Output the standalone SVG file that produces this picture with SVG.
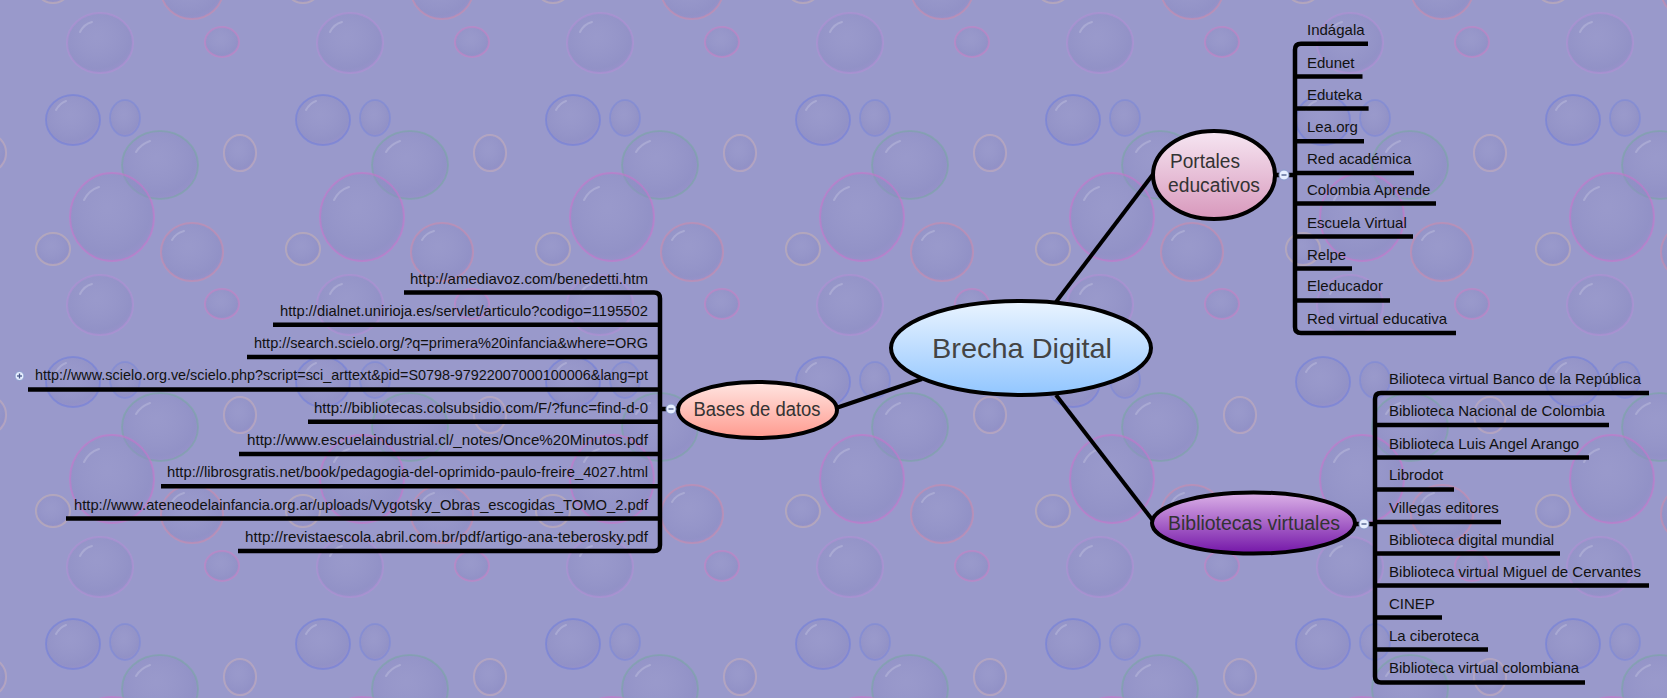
<svg xmlns="http://www.w3.org/2000/svg" width="1667" height="698" viewBox="0 0 1667 698">
<defs>
<style>
.bub{fill:url(#bf);stroke-width:2;stroke-opacity:0.5}
.hl{fill:none;stroke:#ffffff;stroke-opacity:0.18;stroke-width:2;stroke-linecap:round}
.ln{fill:none;stroke:#000;stroke-width:4.5}
.con{fill:none;stroke:#000;stroke-width:4}
.nd{stroke:#000;stroke-width:4}
.lbl{font-family:"Liberation Sans",Arial,sans-serif;font-size:20px;fill:#333333}
.big{font-family:"Liberation Sans",Arial,sans-serif;font-size:28px;fill:#444444}
.it{font-family:"Liberation Sans",Arial,sans-serif;font-size:15px;fill:#111}
.mk{fill:#e6eeff;stroke:#8a9ccc;stroke-width:1}
.mkl{stroke:#4a5a8a;stroke-width:1.3}
</style>
<radialGradient id="bf" cx="0.45" cy="0.4" r="0.65">
<stop offset="0" stop-color="#9a9acc" stop-opacity="0.2"/>
<stop offset="0.8" stop-color="#8a8ac2" stop-opacity="0.5"/>
<stop offset="1" stop-color="#9a8ccc" stop-opacity="0.6"/>
</radialGradient>
<pattern id="bubbles" width="250" height="262" patternUnits="userSpaceOnUse">
<rect width="250" height="262" fill="#9999cb"/>
<ellipse class="bub" cx="100" cy="43" rx="33" ry="30" stroke="#b58ed6"/>
<ellipse class="bub" cx="222" cy="42" rx="17" ry="15" stroke="#d07ec4"/>
<ellipse class="bub" cx="192" cy="252" rx="31" ry="29" stroke="#d58aa8"/>
<ellipse class="bub" cx="192" cy="-10" rx="31" ry="29" stroke="#d58aa8"/>
<ellipse class="bub" cx="73" cy="120" rx="27" ry="25" stroke="#6a7ade"/>
<ellipse class="bub" cx="125" cy="118" rx="15" ry="18" stroke="#7886da"/>
<ellipse class="bub" cx="160" cy="165" rx="38" ry="34" stroke="#73a89e"/>
<ellipse class="bub" cx="240" cy="153" rx="16" ry="18" stroke="#cdb2b8"/>
<ellipse class="bub" cx="-10" cy="153" rx="16" ry="18" stroke="#cdb2b8"/>
<ellipse class="bub" cx="112" cy="217" rx="42" ry="44" stroke="#d070cc"/>
<ellipse class="bub" cx="112" cy="-45" rx="42" ry="44" stroke="#d070cc"/>
<ellipse class="bub" cx="53" cy="249" rx="17" ry="16" stroke="#cdb6b0"/>
<ellipse class="bub" cx="53" cy="-13" rx="17" ry="16" stroke="#cdb6b0"/>
<path class="hl" d="M80 32 Q84 24 92 22"/>
<path class="hl" d="M56 110 Q60 103 66 101"/>
<path class="hl" d="M136 152 Q141 144 150 141"/>
<path class="hl" d="M84 200 Q89 190 99 187"/>
<path class="hl" d="M172 240 Q176 233 184 231"/>
</pattern>
<linearGradient id="gC" x1="0" y1="0" x2="0" y2="1">
<stop offset="0" stop-color="#eaf4ff"/><stop offset="1" stop-color="#92c6ff"/>
</linearGradient>
<linearGradient id="gP" x1="0" y1="0" x2="0" y2="1">
<stop offset="0" stop-color="#f6e6f2"/><stop offset="1" stop-color="#d898bc"/>
</linearGradient>
<linearGradient id="gB" x1="0" y1="0" x2="0" y2="1">
<stop offset="0" stop-color="#ffe6e2"/><stop offset="1" stop-color="#ff9a8e"/>
</linearGradient>
<linearGradient id="gV" x1="0" y1="0" x2="0" y2="1">
<stop offset="0" stop-color="#dcb2e8"/><stop offset="1" stop-color="#7416a8"/>
</linearGradient>
</defs>

<rect width="1667" height="698" fill="url(#bubbles)"/>

<g id="connectors">
<line class="con" x1="1056" y1="302" x2="1154" y2="173"/>
<line class="con" x1="1056" y1="395" x2="1154" y2="522"/>
<line class="con" x1="922" y1="379" x2="836" y2="408"/>
<line class="ln" x1="1275" y1="175" x2="1295" y2="175"/>
<path class="ln" d="M1368 43.7 H1301 Q1295 43.7 1295 49.7 V327 Q1295 333 1301 333 H1456"/>
<line class="ln" x1="1295" y1="76.6" x2="1362.5" y2="76.6"/>
<line class="ln" x1="1295" y1="108.6" x2="1368.6" y2="108.6"/>
<line class="ln" x1="1295" y1="141.2" x2="1364" y2="141.2"/>
<line class="ln" x1="1295" y1="173.1" x2="1414" y2="173.1"/>
<line class="ln" x1="1295" y1="203.6" x2="1436" y2="203.6"/>
<line class="ln" x1="1295" y1="236.6" x2="1413" y2="236.6"/>
<line class="ln" x1="1295" y1="268.5" x2="1352" y2="268.5"/>
<line class="ln" x1="1295" y1="300.4" x2="1390" y2="300.4"/>
<line class="ln" x1="1355" y1="524" x2="1375" y2="524"/>
<path class="ln" d="M1649 393 H1381 Q1375 393 1375 399 V676.4 Q1375 682.4 1381 682.4 H1585"/>
<line class="ln" x1="1375" y1="425" x2="1609" y2="425"/>
<line class="ln" x1="1375" y1="457.5" x2="1589" y2="457.5"/>
<line class="ln" x1="1375" y1="489.4" x2="1454" y2="489.4"/>
<line class="ln" x1="1375" y1="522" x2="1501" y2="522"/>
<line class="ln" x1="1375" y1="553.5" x2="1560" y2="553.5"/>
<line class="ln" x1="1375" y1="585.5" x2="1649" y2="585.5"/>
<line class="ln" x1="1375" y1="617.5" x2="1442" y2="617.5"/>
<line class="ln" x1="1375" y1="649.5" x2="1488" y2="649.5"/>
<line class="ln" x1="660" y1="409" x2="680" y2="409"/>
<path class="ln" d="M404 292.5 H654 Q660 292.5 660 298.5 V544.9 Q660 550.9 654 550.9 H238"/>
<line class="ln" x1="660" y1="324.8" x2="273" y2="324.8"/>
<line class="ln" x1="660" y1="357.1" x2="247" y2="357.1"/>
<line class="ln" x1="660" y1="389.4" x2="28" y2="389.4"/>
<line class="ln" x1="660" y1="421.7" x2="308" y2="421.7"/>
<line class="ln" x1="660" y1="454" x2="239" y2="454"/>
<line class="ln" x1="660" y1="486.3" x2="161" y2="486.3"/>
<line class="ln" x1="660" y1="518.6" x2="66" y2="518.6"/>
</g>

<g id="node-central">
<ellipse class="nd" cx="1021" cy="348" rx="130" ry="47" fill="url(#gC)"/>
<text class="big" x="1022" y="358" text-anchor="middle" textLength="180" lengthAdjust="spacingAndGlyphs">Brecha Digital</text>
</g>

<g id="node-portales">
<ellipse class="nd" cx="1214" cy="175" rx="61" ry="44" fill="url(#gP)"/>
<text class="lbl" x="1170" y="168" textLength="70" lengthAdjust="spacingAndGlyphs">Portales</text>
<text class="lbl" x="1168" y="192" textLength="92" lengthAdjust="spacingAndGlyphs">educativos</text>
<circle class="mk" cx="1284" cy="175" r="5"/><line class="mkl" x1="1281.5" y1="175" x2="1286.5" y2="175"/>
</g>

<g id="node-bibliotecas">
<ellipse class="nd" cx="1253.5" cy="523" rx="101.5" ry="30.5" fill="url(#gV)"/>
<text class="lbl" x="1254" y="530" text-anchor="middle" textLength="172" lengthAdjust="spacingAndGlyphs">Bibliotecas virtuales</text>
<circle class="mk" cx="1364" cy="524" r="5"/><line class="mkl" x1="1361.5" y1="524" x2="1366.5" y2="524"/>
</g>

<g id="node-bases">
<ellipse class="nd" cx="757.5" cy="410" rx="79.5" ry="28" fill="url(#gB)"/>
<text class="lbl" x="757" y="416" text-anchor="middle" textLength="127" lengthAdjust="spacingAndGlyphs">Bases de datos</text>
<circle class="mk" cx="671" cy="409" r="5"/><line class="mkl" x1="668.5" y1="409" x2="673.5" y2="409"/>
</g>

<g id="portales-items">
<text class="it" x="1307" y="35">Indágala</text>
<text class="it" x="1307" y="67.6">Edunet</text>
<text class="it" x="1307" y="99.6">Eduteka</text>
<text class="it" x="1307" y="132.2">Lea.org</text>
<text class="it" x="1307" y="164.1">Red académica</text>
<text class="it" x="1307" y="194.6">Colombia Aprende</text>
<text class="it" x="1307" y="227.6">Escuela Virtual</text>
<text class="it" x="1307" y="259.5">Relpe</text>
<text class="it" x="1307" y="291.4">Eleducador</text>
<text class="it" x="1307" y="324">Red virtual educativa</text>
</g>

<g id="bibliotecas-items">
<text class="it" x="1389" y="384" textLength="252" lengthAdjust="spacingAndGlyphs">Bilioteca virtual Banco de la República</text>
<text class="it" x="1389" y="416">Biblioteca Nacional de Colombia</text>
<text class="it" x="1389" y="448.5">Biblioteca Luis Angel Arango</text>
<text class="it" x="1389" y="480.4">Librodot</text>
<text class="it" x="1389" y="513">Villegas editores</text>
<text class="it" x="1389" y="544.5">Biblioteca digital mundial</text>
<text class="it" x="1389" y="576.5" textLength="252" lengthAdjust="spacingAndGlyphs">Biblioteca virtual Miguel de Cervantes</text>
<text class="it" x="1389" y="608.5">CINEP</text>
<text class="it" x="1389" y="640.5">La ciberoteca</text>
<text class="it" x="1389" y="673.4">Biblioteca virtual colombiana</text>
</g>

<g id="bases-items">
<text class="it" x="648" y="283.5" text-anchor="end" textLength="238" lengthAdjust="spacingAndGlyphs">http://amediavoz.com/benedetti.htm</text>
<text class="it" x="648" y="315.8" text-anchor="end" textLength="368" lengthAdjust="spacingAndGlyphs">http://dialnet.unirioja.es/servlet/articulo?codigo=1195502</text>
<text class="it" x="648" y="348.1" text-anchor="end" textLength="394" lengthAdjust="spacingAndGlyphs">http://search.scielo.org/?q=primera%20infancia&amp;where=ORG</text>
<text class="it" x="648" y="380.4" text-anchor="end" textLength="613" lengthAdjust="spacingAndGlyphs">http://www.scielo.org.ve/scielo.php?script=sci_arttext&amp;pid=S0798-97922007000100006&amp;lang=pt</text>
<text class="it" x="648" y="412.7" text-anchor="end" textLength="334" lengthAdjust="spacingAndGlyphs">http://bibliotecas.colsubsidio.com/F/?func=find-d-0</text>
<text class="it" x="648" y="445" text-anchor="end" textLength="401" lengthAdjust="spacingAndGlyphs">http://www.escuelaindustrial.cl/_notes/Once%20Minutos.pdf</text>
<text class="it" x="648" y="477.3" text-anchor="end" textLength="481" lengthAdjust="spacingAndGlyphs">http://librosgratis.net/book/pedagogia-del-oprimido-paulo-freire_4027.html</text>
<text class="it" x="648" y="509.6" text-anchor="end" textLength="574" lengthAdjust="spacingAndGlyphs">http://www.ateneodelainfancia.org.ar/uploads/Vygotsky_Obras_escogidas_TOMO_2.pdf</text>
<text class="it" x="648" y="541.9" text-anchor="end" textLength="403" lengthAdjust="spacingAndGlyphs">http://revistaescola.abril.com.br/pdf/artigo-ana-teberosky.pdf</text>
<circle class="mk" cx="19.5" cy="376" r="4.5"/><line class="mkl" x1="17" y1="376" x2="22" y2="376"/><line class="mkl" x1="19.5" y1="373.5" x2="19.5" y2="378.5"/>
</g>
</svg>
